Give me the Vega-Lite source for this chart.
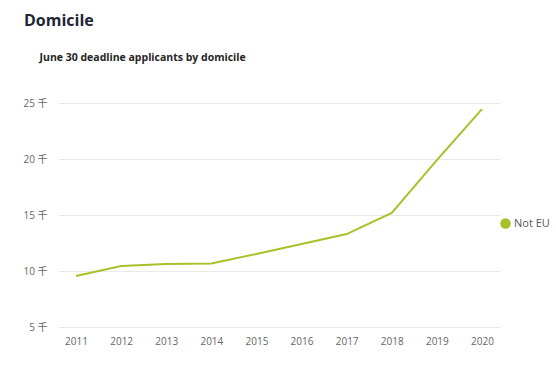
{
  "$schema": "https://vega.github.io/schema/vega-lite/v6.json",
  "autosize": "none",
  "width": 442,
  "height": 224,
  "padding": {"left": 58, "top": 103, "right": 56, "bottom": 47},
  "background": "white",
  "config": {"view": {"stroke": null}},
  "title": {
    "text": "Domicile",
    "anchor": "start",
    "frame": "group",
    "dx": -34,
    "dy": -13,
    "fontSize": 16,
    "fontWeight": "bold",
    "font": "Open Sans",
    "color": "#1d2733",
    "offset": 10
  },
  "data": {
    "values": [
      {"year": "2011", "domicile": "Not EU", "applicants": 9560},
      {"year": "2012", "domicile": "Not EU", "applicants": 10450},
      {"year": "2013", "domicile": "Not EU", "applicants": 10630},
      {"year": "2014", "domicile": "Not EU", "applicants": 10670},
      {"year": "2015", "domicile": "Not EU", "applicants": 11520},
      {"year": "2016", "domicile": "Not EU", "applicants": 12410},
      {"year": "2017", "domicile": "Not EU", "applicants": 13300},
      {"year": "2018", "domicile": "Not EU", "applicants": 15180},
      {"year": "2019", "domicile": "Not EU", "applicants": 19900},
      {"year": "2020", "domicile": "Not EU", "applicants": 24460}
    ]
  },
  "mark": {"type": "line", "strokeWidth": 2},
  "encoding": {
    "x": {
      "field": "year",
      "type": "ordinal",
      "scale": {"type": "point", "padding": 0.4},
      "axis": {
        "title": null,
        "labelAngle": 0,
        "domain": false,
        "ticks": false,
        "grid": false,
        "labelPadding": 9,
        "labelFont": "Open Sans",
        "labelFontSize": 10,
        "labelColor": "#666666"
      }
    },
    "y": {
      "field": "applicants",
      "type": "quantitative",
      "scale": {"domain": [5000, 25000], "nice": false, "zero": false},
      "axis": {
        "values": [5000, 10000, 15000, 20000, 25000],
        "labelExpr": "datum.value / 1000 + ' 千'",
        "title": "June 30 deadline applicants by domicile",
        "titleAngle": 0,
        "titleAlign": "left",
        "titleBaseline": "middle",
        "titleX": -19,
        "titleY": -46,
        "titleFont": "Open Sans",
        "titleFontSize": 10.5,
        "titleFontWeight": "bold",
        "titleColor": "#252525",
        "domain": false,
        "ticks": false,
        "labelPadding": 11,
        "labelFont": "Open Sans, Noto Sans CJK SC",
        "labelFontSize": 10,
        "labelColor": "#666666",
        "gridColor": "#e9e9e9"
      }
    },
    "color": {
      "field": "domicile",
      "type": "nominal",
      "scale": {"range": ["#a6c22b"]},
      "legend": {
        "title": null,
        "orient": "none",
        "legendX": 442,
        "legendY": 115,
        "symbolType": "circle",
        "symbolSize": 110,
        "symbolFillColor": "#a6c22b",
        "symbolStrokeWidth": 0,
        "labelFont": "Open Sans",
        "labelFontSize": 11,
        "labelColor": "#555555",
        "labelOffset": 3
      }
    }
  }
}
